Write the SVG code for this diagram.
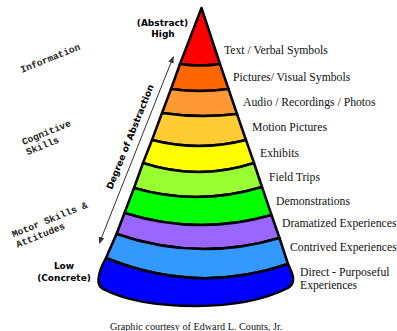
<svg xmlns="http://www.w3.org/2000/svg" width="397" height="331" viewBox="0 0 397 331">
<defs>
<style>
.band{stroke:#000;stroke-width:2.5;stroke-linejoin:round}
.lbl{font-family:"Liberation Serif","Times New Roman",serif;font-size:11.7px;fill:#111}
.bold{font-family:"DejaVu Sans",Verdana,sans-serif;font-weight:bold;font-size:9px;fill:#000}
.mono{font-family:"Liberation Mono","Courier New",monospace;font-size:9.6px;font-weight:bold;fill:#222}
.foot{font-family:"Liberation Serif","Times New Roman",serif;font-size:10.2px;fill:#111}
</style>
<marker id="ah" viewBox="0 0 10 10" refX="9" refY="5" markerWidth="7" markerHeight="7" orient="auto-start-reverse" markerUnits="userSpaceOnUse">
<path d="M0,1 L10,5 L0,9 Z" fill="#333"/>
</marker>
</defs>
<rect width="397" height="331" fill="#fff"/>

<g id="band-text">
<path class="band" fill="#FF0000" d="M201.5,8 L220,64 Q200,67 180,64 Z"/>
<text class="lbl" x="224" y="54">Text / Verbal Symbols</text>
</g>
<g id="band-pictures">
<path class="band" fill="#FF6600" d="M180,64 Q200,67 220,64 L228.5,89 Q199.5,93 171,89 Z"/>
<text class="lbl" x="233" y="81">Pictures/ Visual Symbols</text>
</g>
<g id="band-audio">
<path class="band" fill="#FF9933" d="M171,89 Q199.5,93 228.5,89 L237,114 Q199.5,118.5 162,113 Z"/>
<text class="lbl" x="243" y="106">Audio / Recordings / Photos</text>
</g>
<g id="band-motion">
<path class="band" fill="#FFCC33" d="M162,113 Q199.5,118.5 237,114 L246,140 Q199,152 152,140 Z"/>
<text class="lbl" x="252" y="131">Motion Pictures</text>
</g>
<g id="band-exhibits">
<path class="band" fill="#FFFF00" d="M152,140 Q199,152 246,140 L254,163 Q198.5,181 143,163 Z"/>
<text class="lbl" x="260" y="156.5">Exhibits</text>
</g>
<g id="band-field">
<path class="band" fill="#99FF33" d="M143,163 Q198.5,181 254,163 L262,187 Q198,206.5 134,188 Z"/>
<text class="lbl" x="269" y="181">Field Trips</text>
</g>
<g id="band-demo">
<path class="band" fill="#00FF00" d="M134,188 Q198,206.5 262,187 L271.5,215 Q198,236 124.5,213 Z"/>
<text class="lbl" x="276" y="204.5">Demonstrations</text>
</g>
<g id="band-dramatized">
<path class="band" fill="#9966FF" d="M124.5,213 Q198,236 271.5,215 L279.5,238 Q198,262 116.5,234 Z"/>
<text class="lbl" x="282" y="226.5">Dramatized Experiences</text>
</g>
<g id="band-contrived">
<path class="band" fill="#3399FF" d="M116.5,234 Q198,262 279.5,238 L288,264 Q197,295 106,258 Z"/>
<text class="lbl" x="290" y="250.5">Contrived Experiences</text>
</g>
<g id="band-direct">
<path class="band" fill="#0000FF" d="M106,258 Q197,295 288,264 C291,270 294,276 293,280 Q293,285 288,288 C260,302 230,306 196,306 C160,306 128,302 103,289 Q98,286 98.5,279 C99,272 102,265 106,258 Z"/>
<text class="lbl" x="300" y="276">Direct - Purposeful</text>
<text class="lbl" x="300" y="288.5">Experiences</text>
</g>

<g id="label-high">
<text class="bold" x="162.5" y="25.5" text-anchor="middle">(Abstract)</text>
<text class="bold" x="163" y="37" text-anchor="middle">High</text>
</g>
<g id="label-low">
<text class="bold" x="64" y="269" text-anchor="middle">Low</text>
<text class="bold" x="64" y="280.5" text-anchor="middle">(Concrete)</text>
</g>

<g id="label-information">
<text class="mono" x="22" y="73" transform="rotate(-22 22 73)">Information</text>
</g>
<g id="label-cognitive">
<text class="mono" x="23.5" y="145" transform="rotate(-22 23.5 145)">Cognitive<tspan x="23.5" dy="11">Skills</tspan></text>
</g>
<g id="label-motor">
<text class="mono" x="13.5" y="237.5" transform="rotate(-22 13.5 237.5)">Motor Skills &amp;<tspan x="13.5" dy="11">Attitudes</tspan></text>
</g>

<g id="connectors">
<line x1="99.3" y1="243.3" x2="173.3" y2="56.7" stroke="#333" stroke-width="1" marker-start="url(#ah)" marker-end="url(#ah)"/>
</g>
<g id="label-degree">
<text class="bold" x="133" y="138" text-anchor="middle" transform="rotate(-68 133 138)">Degree of Abstraction</text>
</g>

<g id="credit">
<text class="foot" x="110" y="330">Graphic courtesy of Edward L. Counts, Jr.</text>
</g>
</svg>
